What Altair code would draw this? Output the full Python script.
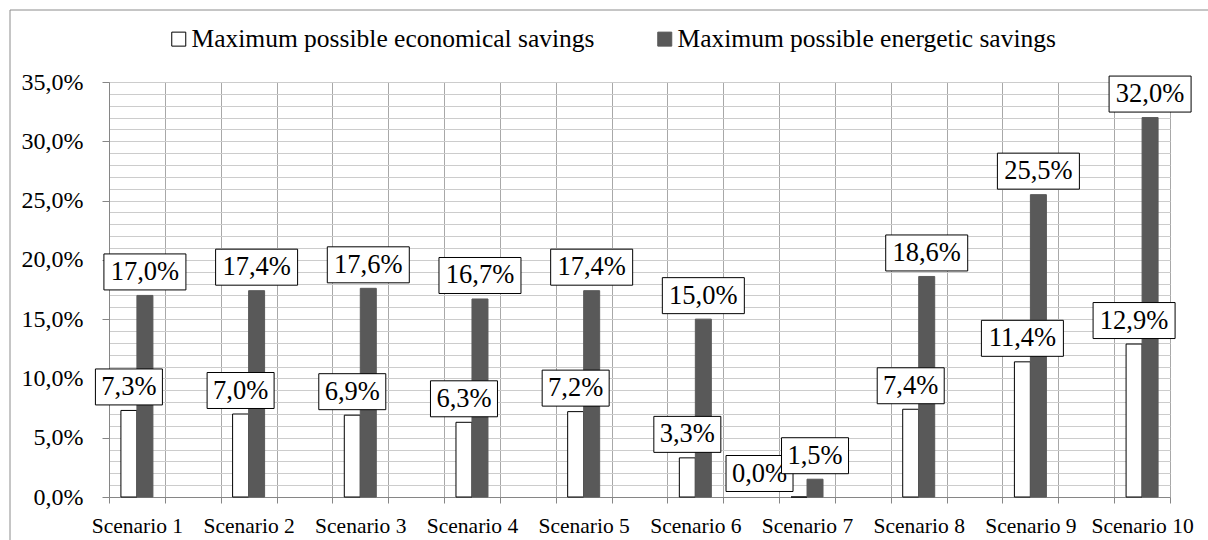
import altair as alt
import pandas as pd

FONT = "'Liberation Serif', 'Times New Roman', 'DejaVu Serif', serif"

scenarios = ["Scenario 1", "Scenario 2", "Scenario 3", "Scenario 4", "Scenario 5",
             "Scenario 6", "Scenario 7", "Scenario 8", "Scenario 9", "Scenario 10"]
economical = [7.3, 7.0, 6.9, 6.3, 7.2, 3.3, 0.0, 7.4, 11.4, 12.9]
energetic = [17.0, 17.4, 17.6, 16.7, 17.4, 15.0, 1.5, 18.6, 25.5, 32.0]
series_names = ["Maximum possible economical savings", "Maximum possible energetic savings"]
series_fill = ["#ffffff", "#595959"]
series_stroke = ["#000000", "#595959"]

# category slots: each scenario followed by an empty spacer slot (as in the source sheet)
slots = []
for i, s in enumerate(scenarios):
    if i:
        slots.append(f"_{i}")
    slots.append(s)

rows = []
for i, s in enumerate(scenarios):
    for name, vals in zip(series_names, [economical, energetic]):
        v = vals[i]
        lab = f"{v:.1f}".replace(".", ",") + "%"
        rows.append({"scenario": s, "series": name, "value": v, "label": lab,
                     "kind": "wide" if len(lab) == 5 else "narrow"})
df = pd.DataFrame(rows)

x_axis = alt.Axis(
    title=None, labelExpr="indexof(datum.label, '_') === 0 ? '' : datum.label",
    tickBand="extent", grid=True, gridColor="#a8a8a8", gridWidth=1,
    tickColor="#868686", tickSize=6, domainColor="#868686", domainWidth=1,
    labelFont=FONT, labelFontSize=21.5, labelColor="black", labelAngle=0,
    labelPadding=12, labelOverlap=False,
)
y_axis = alt.Axis(
    title=None, values=list(range(0, 36)),
    labelExpr="datum.value % 5 === 0 ? replace(format(datum.value, '.1f'), '.', ',') + '%' : ''",
    labelFont=FONT, labelFontSize=24, labelColor="black", labelPadding=19,
    labelOverlap=False, tickSize=7, tickColor="#868686",
    tickOpacity={"condition": {"test": "datum.value % 5 === 0", "value": 1}, "value": 0},
    grid=True, gridColor="#cccccc", gridWidth=1,
    domainColor="#868686", domainWidth=1,
)

x_enc = alt.X("scenario:N", scale=alt.Scale(domain=slots, paddingInner=0, paddingOuter=0), axis=x_axis)
xo_enc = alt.XOffset("series:N", scale=alt.Scale(domain=series_names, paddingInner=0, paddingOuter=0.745))
y_enc = alt.Y("value:Q", scale=alt.Scale(domain=[0, 35], nice=False, zero=True), axis=y_axis)

leg = alt.Legend(
    orient="none", legendX=57, legendY=-56, direction="horizontal", title=None,
    symbolType="square", symbolSize=196, symbolStrokeWidth=1,
    labelFont=FONT, labelFontSize=25.5, labelColor="black", labelOffset=0,
    columnPadding=57, padding=0, labelLimit=0,
)

bars = alt.Chart(df).mark_bar(strokeWidth=1).encode(
    x=x_enc, xOffset=xo_enc, y=y_enc,
    fill=alt.Fill("series:N", scale=alt.Scale(domain=series_names, range=series_fill), legend=leg),
    stroke=alt.Stroke("series:N", scale=alt.Scale(domain=series_names, range=series_stroke), legend=leg),
)

WIDE = "M-1,-0.439L1,-0.439L1,0.439L-1,0.439Z"     # 82 x 36 box
NARROW = "M-1,-0.537L1,-0.537L1,0.537L-1,0.537Z"   # 67 x 36 box
BOX = {"wide": (WIDE, 6724), "narrow": (NARROW, 4489)}
OFF = -23.5


def labels(name):
    layers = []
    for kind, (shape, size) in BOX.items():
        layers.append(
            alt.Chart(df).transform_filter(
                f"datum.series === '{name}' && datum.kind === '{kind}' && datum.value !== 0"
            ).mark_point(shape=shape, size=size, filled=True, fill="white", stroke="black",
                         strokeWidth=1, opacity=1, yOffset=OFF)
            .encode(x=x_enc, xOffset=xo_enc, y=y_enc)
        )
    layers.append(
        alt.Chart(df).transform_filter(f"datum.series === '{name}' && datum.value !== 0")
        .mark_text(font=FONT, fontSize=26.5, color="black", baseline="middle", align="center", dy=OFF)
        .encode(x=x_enc, xOffset=xo_enc, y=y_enc, text="label:N")
    )
    return layers


zero_filter = f"datum.series === '{series_names[0]}' && datum.value === 0"
zero_box = alt.Chart(df).transform_filter(zero_filter).mark_point(
    shape=NARROW, size=4489, filled=True, fill="white", stroke="black", strokeWidth=1,
    opacity=1, xOffset=-47.5, yOffset=OFF
).encode(x=x_enc, y=y_enc)
zero_text = alt.Chart(df).transform_filter(zero_filter).mark_text(
    font=FONT, fontSize=26.5, color="black", baseline="middle", align="center", dx=-47.5, dy=OFF
).encode(x=x_enc, y=y_enc, text="label:N")

one = pd.DataFrame({"k": [0]})
border_top = alt.Chart(one).mark_rule(color="#8c8c8c", strokeWidth=1).encode(
    x=alt.value(-99), x2=alt.value(1099), y=alt.value(-72))
border_left = alt.Chart(one).mark_rule(color="#8c8c8c", strokeWidth=1).encode(
    x=alt.value(-99), y=alt.value(-72), y2=alt.value(458))

chart = alt.layer(
    bars, *labels(series_names[0]), zero_box, zero_text, *labels(series_names[1]),
    border_top, border_left,
).properties(
    width=1061, height=415,
    autosize=alt.AutoSizeParams(type="none"),
    padding={"left": 109, "top": 82, "right": 38, "bottom": 43},
).configure_view(stroke=None).configure(background="white", font=FONT)

chart.save("out.html", embed_options={"renderer": "svg", "actions": False})
